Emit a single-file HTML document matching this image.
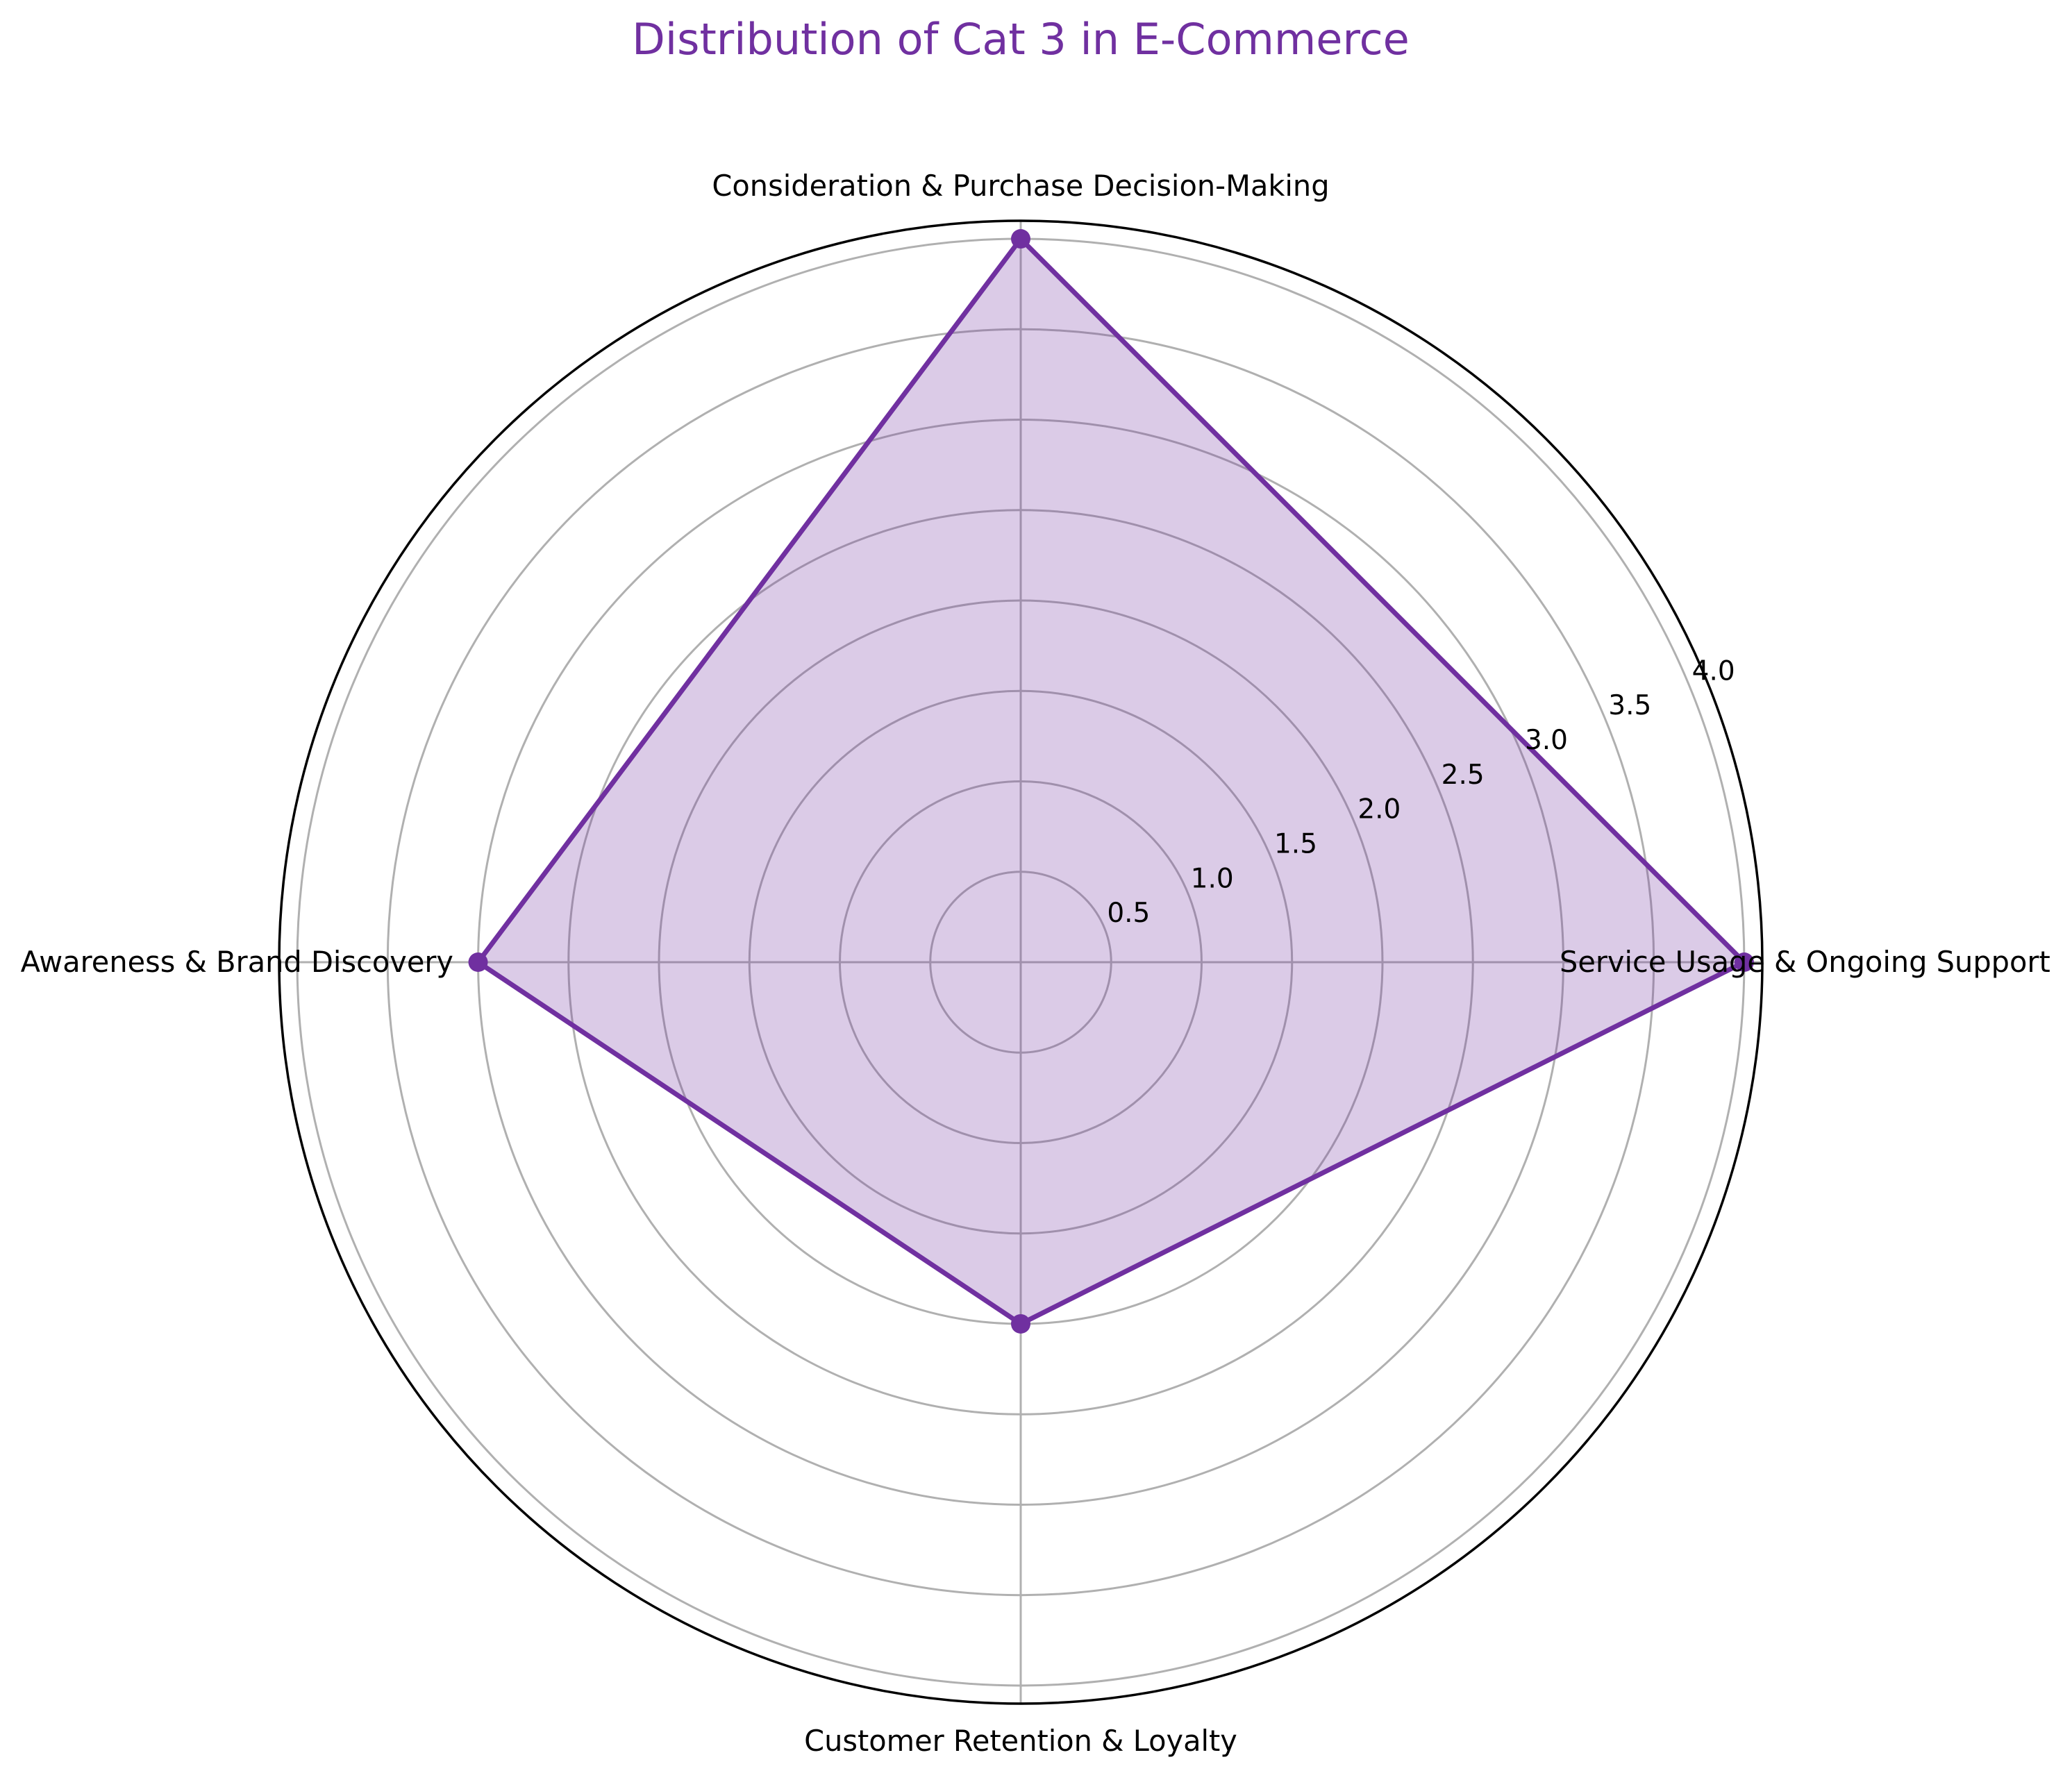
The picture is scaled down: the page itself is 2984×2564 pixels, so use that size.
<!DOCTYPE html>
<html><head><meta charset="utf-8"><style>
html,body{margin:0;padding:0;background:#fff;}
svg{display:block;font-family:"DejaVu Sans","Liberation Sans",sans-serif;}
</style></head><body>
<svg id="chart" width="2984" height="2564" viewBox="0 0 2984 2564">
<text x="1470" y="78" text-anchor="middle" font-size="62" fill="#7030a0">Distribution of Cat 3 in E-Commerce</text>
<g id="grid"></g><g id="series"></g><g id="labels"></g>
</svg>
<script>
const categories = ["Service Usage & Ongoing Support","Consideration & Purchase Decision-Making","Awareness & Brand Discovery","Customer Retention & Loyalty"];
const values = [4.0, 4.0, 3.0, 2.0];
const rTicks = [0.5,1.0,1.5,2.0,2.5,3.0,3.5,4.0];
const rTickLabels = ["0.5","1.0","1.5","2.0","2.5","3.0","3.5","4.0"];
const rMax = 4.1;

const cx=1470, cy=1386, R=1068;
const NS="http://www.w3.org/2000/svg";
function rScale(v){return v/rMax*R;}
function angle(i){return 2*Math.PI*i/categories.length;}
function pt(i,v){const a=angle(i),r=rScale(v);return [cx+r*Math.cos(a), cy-r*Math.sin(a)];}
function mk(tag,attrs,parent){const e=document.createElementNS(NS,tag);for(const k in attrs)e.setAttribute(k,attrs[k]);parent.appendChild(e);return e;}
const grid=document.getElementById('grid'), series=document.getElementById('series'), labels=document.getElementById('labels');

rTicks.forEach((t,k)=>{
  const c=mk('circle',{cx:cx,cy:cy,r:rScale(t),fill:'none',stroke:'#b0b0b0','stroke-width':3},grid);
  
  
});
categories.forEach((c,i)=>{
  const [x,y]=pt(i,rMax);
  const l=mk('line',{x1:cx,y1:cy,x2:x,y2:y,stroke:'#b0b0b0','stroke-width':3},grid);
  
  
});
const outer=mk('circle',{cx:cx,cy:cy,r:R,fill:'none',stroke:'#000','stroke-width':3.5},grid);



const pts=values.map((v,i)=>pt(i,v));
const d=pts.map((p,i)=>(i?'L':'M')+p[0]+','+p[1]).join(' ')+' Z';
const area=mk('path',{d:d,fill:'#7030a0','fill-opacity':0.25,stroke:'none'},series);


const line=mk('path',{d:d,fill:'none',stroke:'#7030a0','stroke-width':7,'stroke-linejoin':'round'},series);


pts.forEach((p,i)=>{
  const m=mk('circle',{cx:p[0],cy:p[1],r:14,fill:'#7030a0'},series);
  
  
});

const ra=22.5*Math.PI/180;
rTicks.forEach((t,k)=>{
  const r=rScale(t);
  const tx=mk('text',{x:cx+r*Math.cos(ra)+4,y:cy-r*Math.sin(ra)-8,'font-size':39,fill:'#000','text-anchor':'start'},labels);
  tx.textContent=rTickLabels[k];
  
  
});

categories.forEach((c,i)=>{
  const a=angle(i);
  let x=cx, y=cy;
  let anchor='middle';
  if(Math.cos(a)>0.5){anchor='start';x=cx+776;}
  else if(Math.cos(a)<-0.5){anchor='end';x=cx-817;}
  if(Math.sin(a)>0.5)y=cy-R-50;
  else if(Math.sin(a)<-0.5)y=cy+R+54;
  const tx=mk('text',{x:x,y:y+14,'font-size':41.5,fill:'#000','text-anchor':anchor},labels);
  tx.textContent=c;
  
  
});
</script>
</body></html>
